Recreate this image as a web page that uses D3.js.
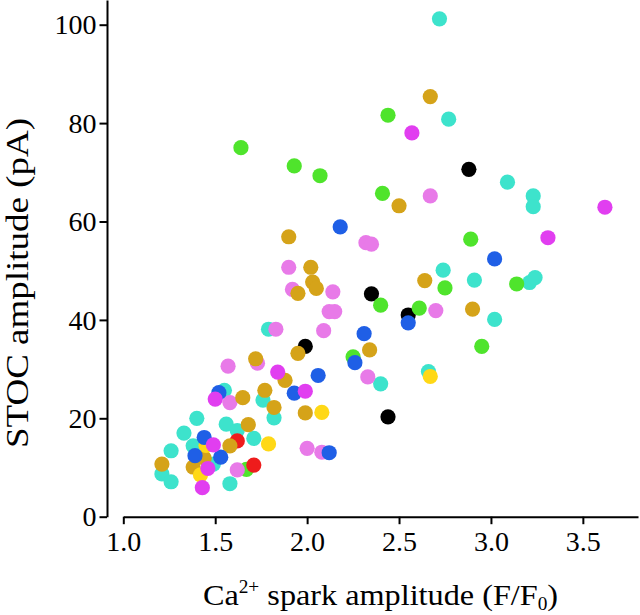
<!DOCTYPE html>
<html>
<head>
<meta charset="utf-8">
<script src="https://cdn.jsdelivr.net/npm/d3@7"></script>
<style>
  html, body { margin: 0; padding: 0; background: #fff; }
  svg { display: block; }
  svg text { font-family: "Liberation Serif", Tinos, "Times New Roman", Times, "Nimbus Roman", serif !important; fill: #000; }
</style>
</head>
<body>
<svg id="chart" width="640" height="615"></svg>
<script>
// ---- data: [spark amplitude F/F0, STOC amplitude pA] per cell (colour) ----
const black = [[2.88,70.6],[2.35,45.3],[2.55,41.0],[1.99,34.6],[2.44,20.3]];
const cyan = [[2.72,101.2],[2.77,80.8],[3.09,68.0],[3.23,65.2],[3.23,63.0],[2.74,50.1],[2.91,48.1],
  [3.21,47.6],[3.24,48.6],[3.02,40.1],[2.40,27.0],[2.66,29.5],[1.79,38.1],[1.55,25.7],[1.76,23.7],
  [1.82,20.1],[1.40,20.0],[1.56,18.8],[1.62,17.5],[1.33,17.0],[1.71,15.9],[1.38,14.4],[1.26,13.4],
  [1.21,8.7],[1.26,7.1],[1.58,6.7],[1.49,10.7]];
const green = [[1.64,75.0],[1.93,71.3],[2.07,69.3],[2.44,81.6],[2.41,65.7],[2.89,56.4],[3.14,47.3],
  [2.75,46.5],[2.40,43.0],[2.61,42.4],[2.95,34.6],[2.25,32.5],[1.67,9.6]];
const red = [[1.62,15.4],[1.71,10.5]];
const pink = [[2.67,65.2],[2.32,55.7],[2.35,55.4],[1.90,50.7],[1.92,46.2],[2.14,45.7],[2.12,41.7],
  [2.15,41.7],[1.83,38.1],[2.09,37.8],[1.57,30.6],[1.73,31.2],[1.58,23.2],[2.33,28.4],[2.70,41.9],
  [2.00,13.9],[2.08,13.1],[1.62,9.5]];
const gold = [[2.67,85.4],[1.90,56.9],[2.02,50.7],[1.95,45.4],[2.03,47.7],[2.05,46.4],[2.50,63.2],
  [2.64,48.0],[2.90,42.2],[2.34,33.9],[1.95,33.2],[1.72,32.1],[1.88,27.7],[1.65,24.2],[1.77,25.7],
  [1.82,22.2],[1.99,21.1],[1.68,18.7],[1.58,14.4],[1.21,10.7],[1.38,10.1],[1.44,11.9]];
const yellow = [[2.67,28.5],[2.08,21.2],[1.79,14.8],[1.45,14.5],[1.42,8.5]];
const blue = [[2.18,58.9],[2.31,37.2],[2.26,31.3],[2.55,39.4],[3.02,52.4],[2.06,28.7],[1.93,25.1],
  [1.52,25.2],[1.44,16.1],[1.39,12.4],[1.53,12.1],[2.12,13.0]];
const magenta = [[2.57,78.0],[3.62,62.9],[3.31,56.7],[1.84,29.4],[1.99,25.5],[1.50,23.9],[1.49,14.6],
  [1.46,9.8],[1.43,5.9]];

const xTicks = [1.0, 1.5, 2.0, 2.5, 3.0, 3.5];
const yTicks = [0, 20, 40, 60, 80, 100];

// draw order (back to front) and colours
const series = [
  {data: black, color: "#000000"},
  {data: cyan, color: "#3de3cc"},
  {data: green, color: "#4fe42c"},
  {data: red, color: "#ee1c1c"},
  {data: pink, color: "#e87ae8"},
  {data: gold, color: "#d5a319"},
  {data: yellow, color: "#ffd816"},
  {data: blue, color: "#1f5fe6"},
  {data: magenta, color: "#e13ef0"}
];

const svg = d3.select("#chart");
const x = d3.scaleLinear().domain([1.0, 3.8]).range([123.3, 638]);
const y = d3.scaleLinear().domain([0, 105]).range([516.7, 0.1]);

// y axis
const yAxisG = svg.append("g").attr("transform", "translate(107,0)")
  .call(d3.axisLeft(y).tickValues(yTicks).tickSize(7.5).tickPadding(3).tickSizeOuter(0));
yAxisG.attr("font-family", null);
yAxisG.select(".domain").attr("stroke", "#000").attr("stroke-width", 2);
yAxisG.selectAll(".tick line").attr("stroke", "#000").attr("stroke-width", 2);
yAxisG.selectAll(".tick text").attr("font-size", 28).attr("dy", "0.33em");

// x axis (offset)
const xAxisG = svg.append("g").attr("transform", "translate(0,516.7)")
  .call(d3.axisBottom(x).tickValues(xTicks).tickFormat(d3.format(".1f")).tickSize(7.5).tickSizeOuter(0));
xAxisG.attr("font-family", null);
xAxisG.select(".domain").attr("stroke", "#000").attr("stroke-width", 2);
xAxisG.selectAll(".tick line").attr("stroke", "#000").attr("stroke-width", 2);
xAxisG.selectAll(".tick text").attr("font-size", 28).attr("dy", null).attr("y", 34.5);

// points
series.forEach(s => {
  svg.append("g").selectAll("circle").data(s.data).join("circle")
    .attr("cx", d => x(d[0])).attr("cy", d => y(d[1])).attr("r", 7.6)
    .attr("fill", s.color);
});

// y label
svg.append("text")
  .attr("transform", "translate(27.6,283) rotate(-90)")
  .attr("text-anchor", "middle").attr("font-size", 31)
  .attr("textLength", 330).attr("lengthAdjust", "spacingAndGlyphs")
  .text("STOC amplitude (pA)");

// x label
const xl = svg.append("g").attr("transform", "translate(380.5,605) scale(1.075,1)")
  .append("text").attr("text-anchor", "middle").attr("font-size", 30);
xl.append("tspan").text("Ca");
xl.append("tspan").attr("font-size", 18).attr("dy", -12).text("2+");
xl.append("tspan").attr("dy", 12).text(" spark amplitude (F/F");
xl.append("tspan").attr("font-size", 18).attr("dy", 5).text("0");
xl.append("tspan").attr("dy", -5).text(")");
</script>
</body>
</html>
